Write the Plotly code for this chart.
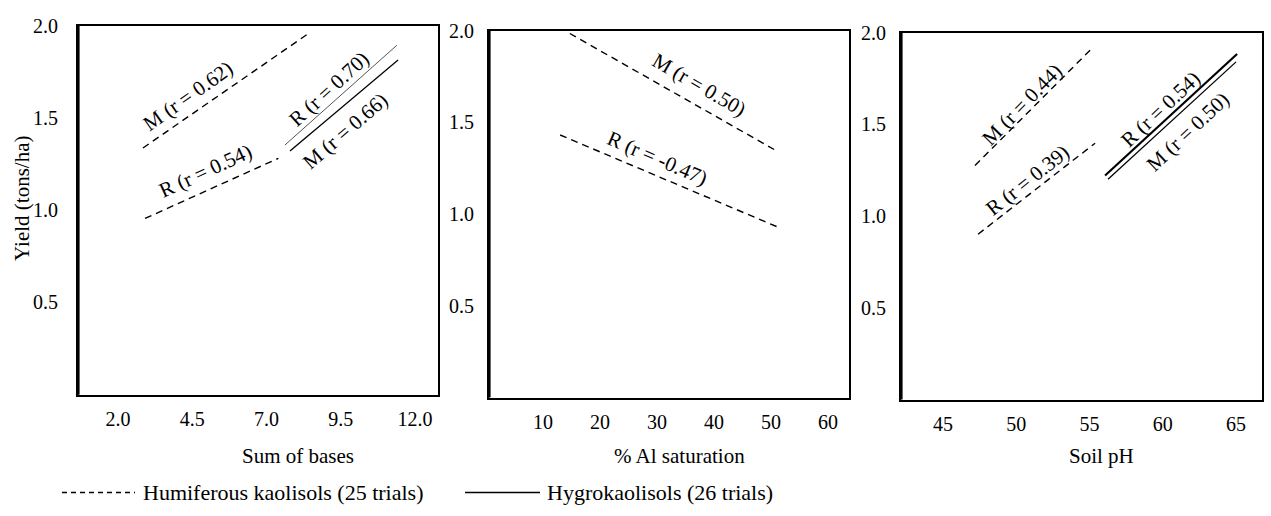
import math
import plotly.graph_objects as go

# ---- regression lines (end points in axis units) ----
# Sum of bases panel
BASES_CROP = ["M", "R", "R", "M"]
BASES_SOIL = ["hum", "hum", "hyg", "hyg"]
BASES_R = ["0.62", "0.54", "0.70", "0.66"]
BASES_X0 = [2.84, 2.91, 7.62, 7.79]
BASES_X1 = [8.46, 7.40, 11.39, 11.43]
BASES_Y0 = [1.337, 0.955, 1.353, 1.321]
BASES_Y1 = [1.963, 1.281, 1.894, 1.814]

# % Al saturation panel
AL_CROP = ["M", "R"]
AL_SOIL = ["hum", "hum"]
AL_R = ["0.50", "-0.47"]
AL_X0 = [14.7, 13.0]
AL_X1 = [51.0, 51.6]
AL_Y0 = [1.984, 1.431]
AL_Y1 = [1.344, 0.924]

# Soil pH panel
PH_CROP = ["M", "R", "R", "M"]
PH_SOIL = ["hum", "hum", "hyg", "hyg"]
PH_R = ["0.44", "0.39", "0.54", "0.50"]
PH_X0 = [47.18, 47.39, 56.06, 56.26]
PH_X1 = [55.15, 55.38, 65.07, 65.00]
PH_Y0 = [1.275, 0.901, 1.221, 1.200]
PH_Y1 = [1.913, 1.397, 1.883, 1.840]

# ---- axes ----
BASES_TICKS = [2.0, 4.5, 7.0, 9.5, 12.0]
BASES_TICKTEXT = ["2.0", "4.5", "7.0", "9.5", "12.0"]
AL_TICKS = [10, 20, 30, 40, 50, 60]
AL_TICKTEXT = ["10", "20", "30", "40", "50", "60"]
PH_TICKS = [45, 50, 55, 60, 65]
PH_TICKTEXT = ["45", "50", "55", "60", "65"]
YIELD_TICKS = [0.5, 1.0, 1.5, 2.0]
YIELD_TICKTEXT = ["0.5", "1.0", "1.5", "2.0"]

X_TITLES = ["Sum of bases", "% Al saturation", "Soil pH"]
Y_TITLE = "Yield (tons/ha)"
LEGEND_TEXT = {"hum": "Humiferous kaolisols (25 trials)",
               "hyg": "Hygrokaolisols (26 trials)"}

W, H = 1271, 516
FONT = "Liberation Serif, Times New Roman, serif"
INK = "#000000"
FS_TICK = 20
FS_LABEL = 21
FS_TITLE = 21
FS_LEGEND = 22

# panel boxes in pixels: left, right, top, bottom
BOXES = [(78, 438, 15, 392), (489, 849, 20, 395), (901, 1262, 22, 397)]
XRANGES = [(0.653, 12.774), (0.526, 63.68), (42.13, 66.77)]
YRANGE = (0.0, 2.0)
Y_STANDOFF = [14, 9, 9]
X_TITLE_CENTER = [298, 679, 1101]

# label placement along each line: fraction along the line, offset (px, + = above)
LABEL_POS = [
    [(0.33, 17), (0.51, 18), (0.47, 13), (0.39, -20)],
    [(0.58, 19), (0.41, 16)],
    [(0.46, 10), (0.49, 12), (0.48, 11), (0.52, -19)],
]

panels = [
    (BASES_CROP, BASES_SOIL, BASES_R, BASES_X0, BASES_X1, BASES_Y0, BASES_Y1),
    (AL_CROP, AL_SOIL, AL_R, AL_X0, AL_X1, AL_Y0, AL_Y1),
    (PH_CROP, PH_SOIL, PH_R, PH_X0, PH_X1, PH_Y0, PH_Y1),
]


def to_px(i, x, y):
    l, r, t, b = BOXES[i]
    x0, x1 = XRANGES[i]
    px = l + (x - x0) / (x1 - x0) * (r - l)
    py = b - (y - YRANGE[0]) / (YRANGE[1] - YRANGE[0]) * (b - t)
    return px, py


def line_style(soil, crop, i):
    if soil == "hum":
        return dict(color=INK, width=1.4, dash="7px,5px")
    if i == 0 and crop == "R":
        return dict(color="#555555", width=1.0, dash="solid")
    if i == 2 and crop == "R":
        return dict(color=INK, width=2.2, dash="solid")
    return dict(color=INK, width=1.3, dash="solid")


fig = go.Figure()
annotations = []
shapes = []

for i, (crop, soil, rv, xs0, xs1, ys0, ys1) in enumerate(panels):
    xa = "x" if i == 0 else f"x{i + 1}"
    ya = "y" if i == 0 else f"y{i + 1}"
    for k in range(len(crop)):
        fig.add_trace(go.Scatter(
            x=[xs0[k], xs1[k]], y=[ys0[k], ys1[k]],
            mode="lines", xaxis=xa, yaxis=ya,
            line=line_style(soil[k], crop[k], i),
            showlegend=False, hoverinfo="skip",
        ))
        # rotated label running along the line
        p0 = to_px(i, xs0[k], ys0[k])
        p1 = to_px(i, xs1[k], ys1[k])
        dx, dy = p1[0] - p0[0], p1[1] - p0[1]
        ln = math.hypot(dx, dy)
        ux, uy = dx / ln, dy / ln
        nx, ny = uy, -ux  # screen normal pointing above the line
        t, off = LABEL_POS[i][k]
        annotations.append(dict(
            x=xs0[k] + t * (xs1[k] - xs0[k]),
            y=ys0[k] + t * (ys1[k] - ys0[k]),
            xref=xa, yref=ya, xanchor="center", yanchor="middle",
            text=f"{crop[k]} (r = {rv[k]})",
            showarrow=False,
            textangle=math.degrees(math.atan2(dy, dx)),
            xshift=off * nx, yshift=-off * ny,
            font=dict(family=FONT, size=FS_LABEL, color=INK),
        ))

axis_common = dict(showline=True, linecolor=INK, linewidth=2, mirror=True,
                   ticks="", showgrid=False, zeroline=False, fixedrange=True,
                   tickfont=dict(family=FONT, size=FS_TICK, color=INK))

xticks = [(BASES_TICKS, BASES_TICKTEXT), (AL_TICKS, AL_TICKTEXT), (PH_TICKS, PH_TICKTEXT)]
layout = dict(
    width=W, height=H, margin=dict(l=0, r=0, t=0, b=0),
    paper_bgcolor="white", plot_bgcolor="white", showlegend=False,
)
for i in range(3):
    l, r, t, b = BOXES[i]
    suffix = "" if i == 0 else str(i + 1)
    layout[f"xaxis{suffix}"] = dict(
        axis_common, domain=[l / W, r / W], range=list(XRANGES[i]),
        tickvals=xticks[i][0], ticktext=xticks[i][1],
        anchor=f"y{suffix}", ticklabelstandoff=5,
    )
    layout[f"yaxis{suffix}"] = dict(
        axis_common, domain=[1 - b / H, 1 - t / H], range=list(YRANGE),
        tickvals=YIELD_TICKS, ticktext=YIELD_TICKTEXT,
        anchor=f"x{suffix}", ticklabelstandoff=Y_STANDOFF[i],
    )
    # heavier left frame edge
    shapes.append(dict(type="line", xref="paper", yref="paper",
                       x0=l / W, x1=l / W, y0=1 - b / H, y1=1 - t / H,
                       line=dict(color=INK, width=3.2)))
    # axis title below each panel
    annotations.append(dict(
        x=X_TITLE_CENTER[i] / W, y=1 - 455 / H, xref="paper", yref="paper",
        xanchor="center", yanchor="middle",
        text=X_TITLES[i], showarrow=False,
        font=dict(family=FONT, size=FS_TITLE, color=INK),
    ))

annotations.append(dict(
    x=22 / W, y=1 - 192 / H, xref="paper", yref="paper", text=Y_TITLE,
    xanchor="center", yanchor="middle",
    showarrow=False, textangle=-90, font=dict(family=FONT, size=FS_TITLE, color=INK),
))

# legend key at the foot of the figure
LEG_Y = 492
shapes += [
    dict(type="line", xref="paper", yref="paper", x0=62 / W, x1=135 / W,
         y0=1 - LEG_Y / H, y1=1 - LEG_Y / H,
         line=dict(color=INK, width=1.3, dash="5px,4px")),
    dict(type="line", xref="paper", yref="paper", x0=465 / W, x1=540 / W,
         y0=1 - LEG_Y / H, y1=1 - LEG_Y / H,
         line=dict(color=INK, width=1.3)),
]
annotations.append(dict(x=141 / W, y=1 - LEG_Y / H, xref="paper", yref="paper",
                        xanchor="left", yanchor="middle",
                        text=LEGEND_TEXT["hum"], showarrow=False,
                        font=dict(family=FONT, size=FS_LEGEND, color=INK)))
annotations.append(dict(x=545 / W, y=1 - LEG_Y / H, xref="paper", yref="paper",
                        xanchor="left", yanchor="middle",
                        text=LEGEND_TEXT["hyg"], showarrow=False,
                        font=dict(family=FONT, size=FS_LEGEND, color=INK)))

layout["annotations"] = annotations
layout["shapes"] = shapes
fig.update_layout(**layout)
fig.write_html("out.html")
